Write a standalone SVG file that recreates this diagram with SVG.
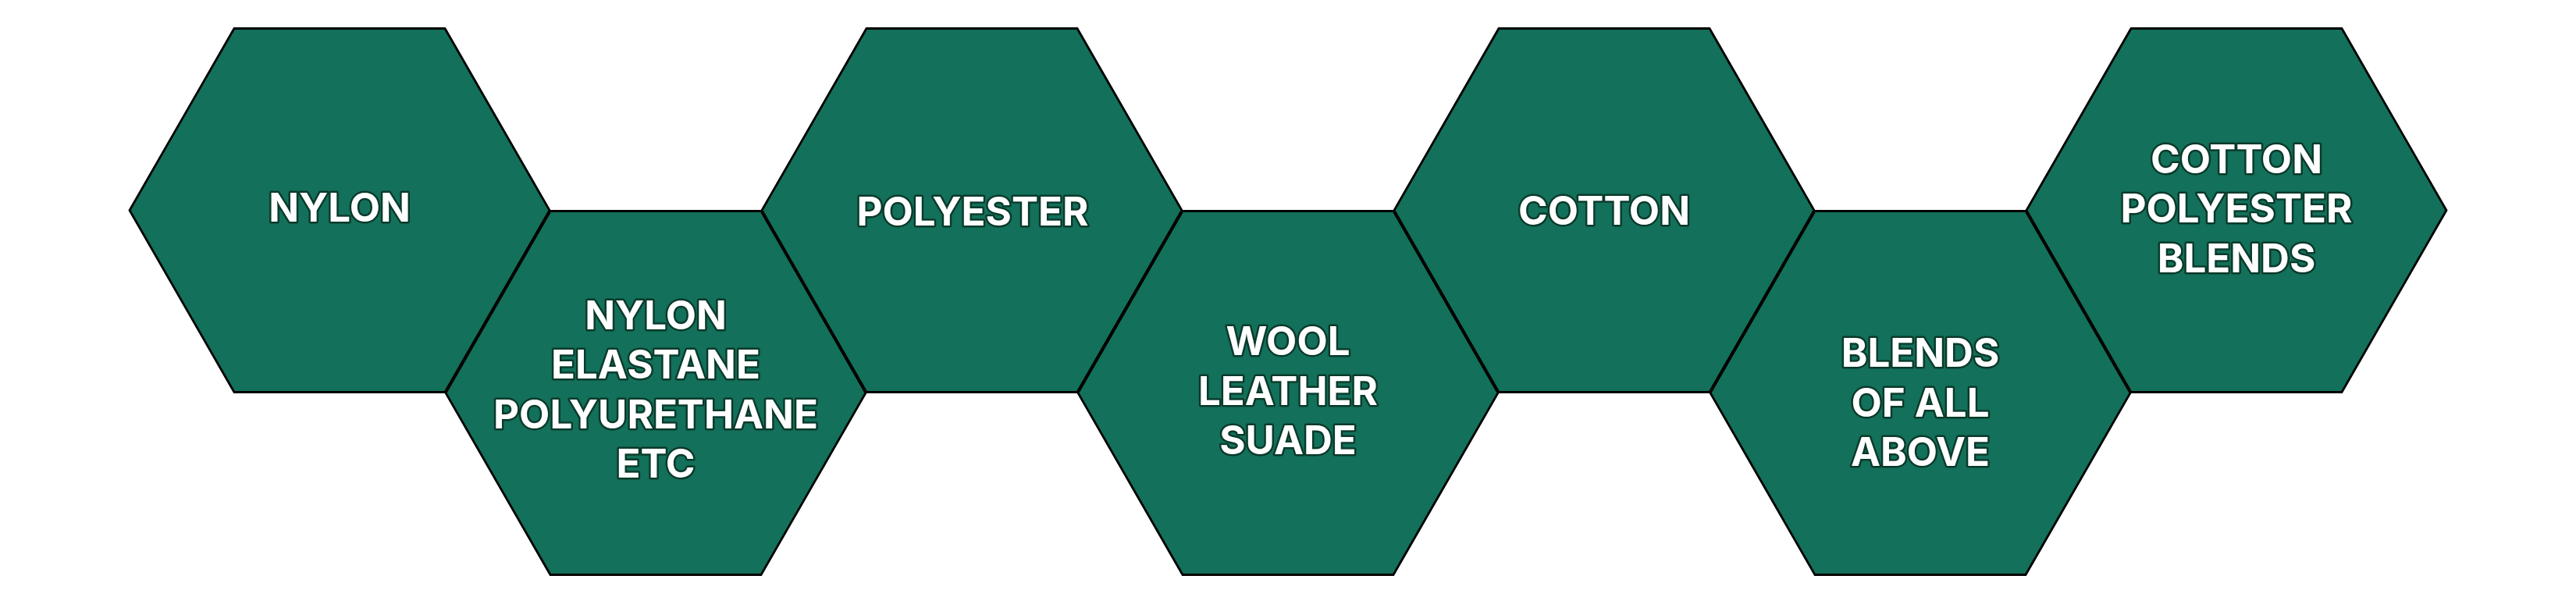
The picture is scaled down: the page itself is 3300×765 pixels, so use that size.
<svg xmlns="http://www.w3.org/2000/svg" xmlns:xlink="http://www.w3.org/1999/xlink" width="3300" height="765" viewBox="0 0 3300 765">
  <style>
    .hex { fill: #13705A; stroke: #000000; stroke-width: 2.8; stroke-linejoin: miter; }
    .lbl { font-family: Inter, "Liberation Sans", sans-serif; font-weight: 700; font-size: 51px; fill: #ffffff; stroke: #0A3A2B; stroke-width: 5; paint-order: stroke; stroke-linejoin: round; text-anchor: middle; }
  </style>
  <defs>
    <polygon id="hexshape" points="-269,0 -135,-233 135,-233 269,0 135,233 -135,233"/>
  </defs>
  <rect x="0" y="0" width="3300" height="765" fill="#ffffff"/>
  <g id="connectors"/>
  <g id="node-nylon">
    <use href="#hexshape" xlink:href="#hexshape" class="hex" x="435" y="269.5"/>
    <text class="lbl" x="435" y="284">NYLON</text>
  </g>
  <g id="node-nylon-elastane">
    <use href="#hexshape" xlink:href="#hexshape" class="hex" x="840" y="503.5"/>
    <text class="lbl" x="840" y="422">NYLON</text>
    <text class="lbl" x="840" y="485.3">ELASTANE</text>
    <text class="lbl" x="840" y="548.6">POLYURETHANE</text>
    <text class="lbl" x="840" y="612">ETC</text>
  </g>
  <g id="node-polyester">
    <use href="#hexshape" xlink:href="#hexshape" class="hex" x="1245" y="269.5"/>
    <text class="lbl" x="1246" y="288.5">POLYESTER</text>
  </g>
  <g id="node-wool">
    <use href="#hexshape" xlink:href="#hexshape" class="hex" x="1650" y="503.5"/>
    <text class="lbl" x="1650" y="455.3">WOOL</text>
    <text class="lbl" x="1650" y="518.6">LEATHER</text>
    <text class="lbl" x="1650" y="582">SUADE</text>
  </g>
  <g id="node-cotton">
    <use href="#hexshape" xlink:href="#hexshape" class="hex" x="2055" y="269.5"/>
    <text class="lbl" x="2055" y="288">COTTON</text>
  </g>
  <g id="node-blends">
    <use href="#hexshape" xlink:href="#hexshape" class="hex" x="2460" y="503.5"/>
    <text class="lbl" x="2460" y="470.3">BLENDS</text>
    <text class="lbl" x="2460" y="533.6">OF ALL</text>
    <text class="lbl" x="2460" y="597">ABOVE</text>
  </g>
  <g id="node-cotton-polyester">
    <use href="#hexshape" xlink:href="#hexshape" class="hex" x="2865" y="269.5"/>
    <text class="lbl" x="2865" y="222">COTTON</text>
    <text class="lbl" x="2865" y="285.3">POLYESTER</text>
    <text class="lbl" x="2865" y="348.6">BLENDS</text>
  </g>
</svg>
